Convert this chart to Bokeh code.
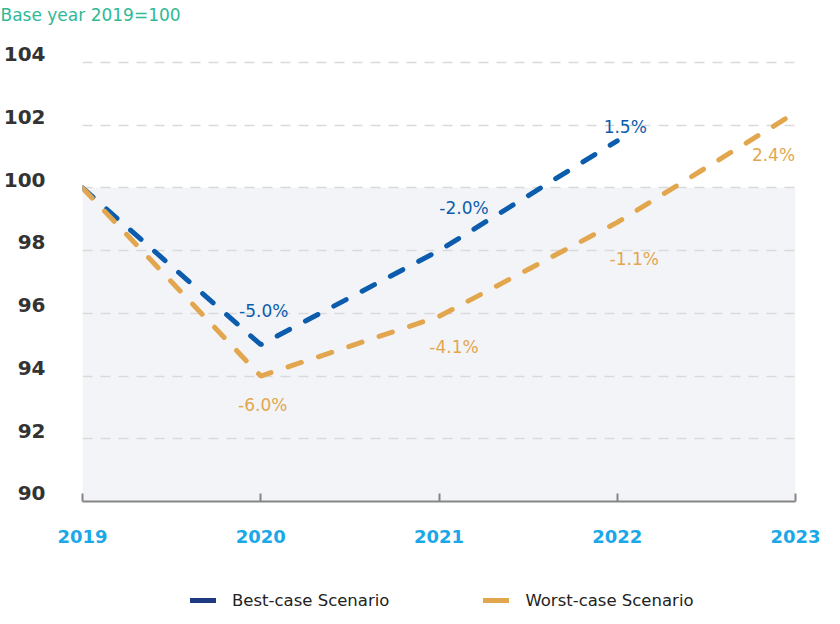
import numpy as np
from bokeh.plotting import figure
from bokeh.layouts import column
from bokeh.models import ColumnDataSource, FixedTicker, LabelSet, Legend, LegendItem, Title
from bokeh.core.properties import value
from bokeh.embed import file_html
from bokeh.resources import INLINE

# ---- data ----
years = [2019, 2020, 2021, 2022, 2023]
best_years = [2019, 2020, 2021, 2022]
best_values = [100.0, 95.0, 98.0, 101.5]
best_labels = ["", "-5.0%", "-2.0%", "1.5%"]
worst_years = [2019, 2020, 2021, 2022, 2023]
worst_values = [100.0, 94.0, 95.9, 98.9, 102.4]
worst_labels = ["", "-6.0%", "-4.1%", "-1.1%", "2.4%"]
y_ticks = [90, 92, 94, 96, 98, 100, 102, 104]
base_value = 100
y_min = 90
y_max = 104.38
title_text = "Base year 2019=100"
series_names = ["Best-case Scenario", "Worst-case Scenario"]

# ---- styling (label offsets in screen px) ----
best_dx = [0, 3, 25, 8]
best_dy = [0, 34, 43, 14]
worst_dx = [0, 2, 15, 17, -22]
worst_dy = [0, -29, -31, -37, -42]
label_lift = 0.26  # y tick labels sit just above their grid line

BEST = "#0b5cad"
BEST_ICON = "#1e3a80"
WORST = "#e2a74e"
FONT = "DejaVu Sans"
W = 824
LEFT = 82

def strip(height):
    f = figure(width=W, height=height, x_range=(0, 1), y_range=(0, 1), output_backend="svg",
               toolbar_location=None, x_axis_location=None, y_axis_location=None,
               min_border=0, outline_line_color=None, background_fill_color="white",
               border_fill_color="white")
    f.xgrid.visible = False
    f.ygrid.visible = False
    return f

# ---- title strip ----
tf = strip(32)
tf.add_layout(Title(text=title_text, align="left", vertical_align="bottom", offset=-LEFT, standoff=4,
                    text_font=FONT, text_font_size="17px", text_font_style="normal",
                    text_color="#2fb996"), "above")

# ---- main chart ----
p = figure(width=W, height=519, x_range=(years[0], years[-1]), y_range=(y_min, y_max),
           output_backend="svg", toolbar_location=None,
           min_border_left=LEFT, min_border_right=29, min_border_top=18, min_border_bottom=50,
           background_fill_color="white", border_fill_color="white", outline_line_color=None)

# shaded band under base value
p.varea(x=[years[0], years[-1]], y1=[y_min, y_min], y2=[base_value, base_value],
        fill_color="#f3f4f8", level="image")

# y axis: labels only, lifted above grid lines
ya = p.yaxis[0]
lifted = [t + label_lift for t in y_ticks]
ya.ticker = FixedTicker(ticks=lifted)
ya.major_label_overrides = {lt: str(t) for lt, t in zip(lifted, y_ticks)}
ya.axis_line_color = None
ya.major_tick_line_color = None
ya.minor_tick_line_color = None
ya.major_tick_out = 0
ya.major_tick_in = 0
ya.minor_tick_out = 0
ya.major_label_standoff = 37
ya.major_label_text_font = FONT
ya.major_label_text_font_style = "bold"
ya.major_label_text_font_size = "20px"
ya.major_label_text_color = "#333333"

p.ygrid.ticker = FixedTicker(ticks=[t for t in y_ticks if t > y_min])
p.ygrid.grid_line_color = "#d9d9d9"
p.ygrid.grid_line_dash = "10 8"
p.ygrid.grid_line_width = 1.5
p.xgrid.visible = False

xa = p.xaxis[0]
xa.ticker = FixedTicker(ticks=years)
xa.axis_line_color = "#858585"
xa.axis_line_width = 2
xa.major_tick_line_color = "#858585"
xa.major_tick_line_width = 2
xa.major_tick_in = 8
xa.major_tick_out = 0
xa.minor_tick_line_color = None
xa.major_label_standoff = 28
xa.major_label_text_font = FONT
xa.major_label_text_font_style = "bold"
xa.major_label_text_font_size = "18px"
xa.major_label_text_color = "#1aa8e8"

# lines
p.line(best_years, best_values, line_color=BEST, line_width=5, line_dash="14 18", line_cap="round")
p.line(worst_years, worst_values, line_color=WORST, line_width=5, line_dash="14 18", line_cap="round")

# value labels
def label_source(xs, ys, texts, dxs, dys):
    keep = [i for i, t in enumerate(texts) if t]
    return ColumnDataSource(dict(x=[xs[i] for i in keep], y=[ys[i] for i in keep],
                                 text=[texts[i] for i in keep],
                                 dx=[dxs[i] for i in keep], dy=[dys[i] for i in keep]))

for xs, ys, texts, dxs, dys, col in [(best_years, best_values, best_labels, best_dx, best_dy, BEST),
                                     (worst_years, worst_values, worst_labels, worst_dx, worst_dy, WORST)]:
    p.add_layout(LabelSet(x="x", y="y", text="text", source=label_source(xs, ys, texts, dxs, dys),
                          x_offset="dx", y_offset="dy", text_align="center", text_baseline="middle",
                          text_font=value(FONT), text_font_size=value("17px"), text_color=value(col)))

# ---- legend strip (solid icons) ----
lf = strip(65)
nan_src1 = ColumnDataSource(dict(x=np.array([np.nan]), y=np.array([np.nan])))
nan_src2 = ColumnDataSource(dict(x=np.array([np.nan]), y=np.array([np.nan])))
r1 = lf.line("x", "y", source=nan_src1, line_color=BEST_ICON, line_width=5, line_cap="round")
r2 = lf.line("x", "y", source=nan_src2, line_color=WORST, line_width=5, line_cap="round")
legend = Legend(items=[LegendItem(label=series_names[0], renderers=[r1]),
                       LegendItem(label=series_names[1], renderers=[r2])],
                orientation="horizontal", location=(190 - LEFT, 6),
                glyph_width=26, glyph_height=20, label_standoff=16, spacing=94,
                padding=0, margin=0, border_line_color=None, background_fill_alpha=0,
                label_text_font=FONT, label_text_font_size="16.5px", label_text_color="#222222")
lf.add_layout(legend)

open("out.html", "w").write(file_html(column(tf, p, lf), INLINE))
